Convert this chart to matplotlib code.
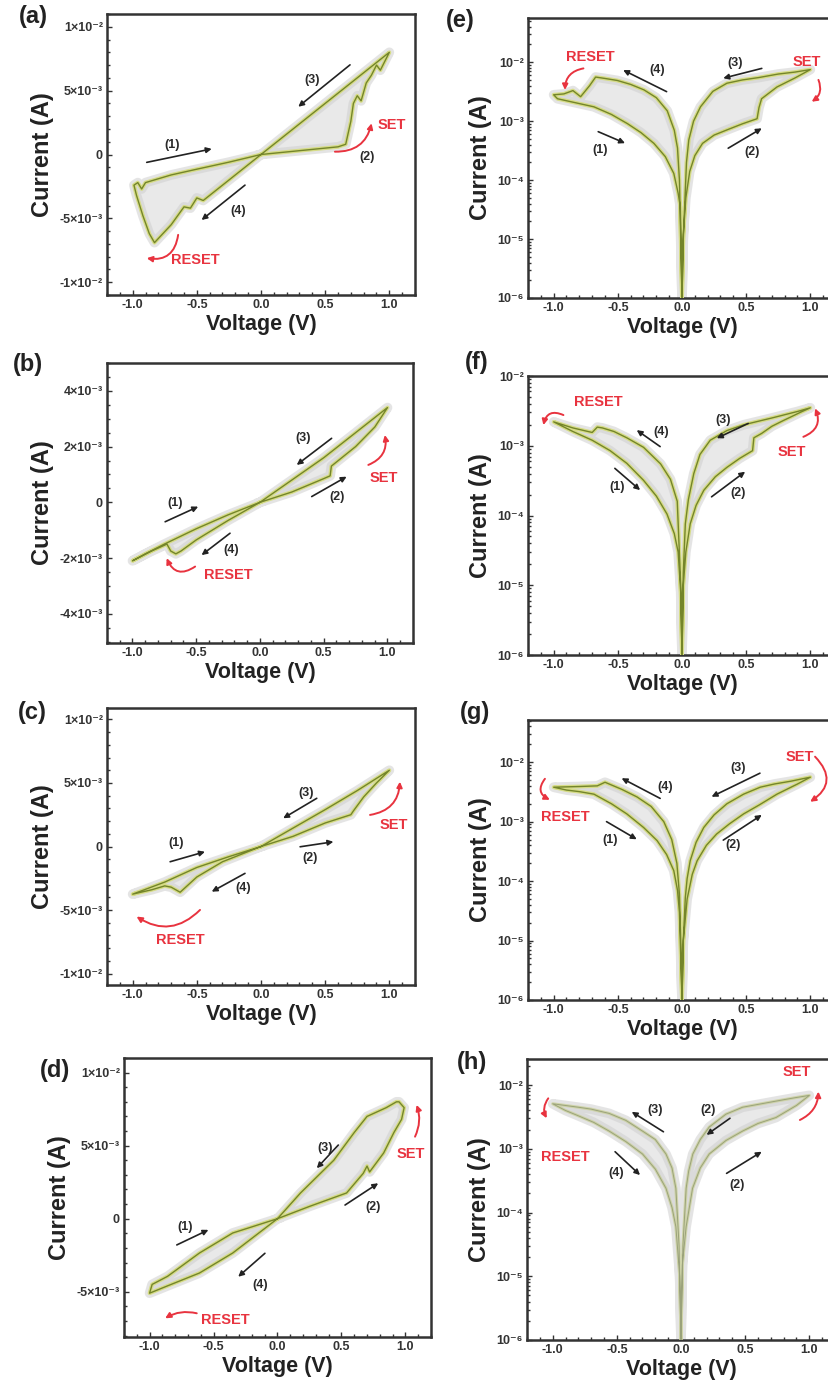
import numpy as np
import matplotlib.pyplot as plt
from matplotlib.ticker import AutoMinorLocator, FixedLocator, LogLocator, NullFormatter

plt.rcParams['font.family'] = ['Liberation Sans', 'DejaVu Sans']
plt.rcParams['font.weight'] = 'bold'

# ---------------- data ----------------
# linear panels: voltage (V) and current (mA), one highlighted sweep each
v_a = [0.0, 0.2, 0.4, 0.6, 0.66, 0.70, 0.72, 0.75, 0.78, 0.82, 0.86, 0.90, 0.93, 0.97, 1.0,
       0.75, 0.5, 0.25, 0.0, -0.25, -0.45, -0.5, -0.55, -0.6, -0.7, -0.83, -0.87, -0.92,
       -0.97, -0.99, -0.96, -0.93, -0.9, -0.7, -0.5, -0.25, 0.0]
i_a = [0.0, 0.2, 0.4, 0.6, 0.8, 2.6, 4.0, 4.6, 4.2, 5.6, 6.2, 7.0, 6.6, 7.4, 8.0,
       6.0, 4.0, 2.0, 0.0, -2.0, -3.6, -3.4, -4.2, -4.1, -5.5, -6.9, -6.2, -4.8,
       -3.2, -2.4, -2.2, -2.7, -2.2, -1.6, -1.15, -0.6, 0.0]

v_b = [0.0, 0.25, 0.5, 0.55, 0.56, 0.75, 0.9, 1.0, 0.75, 0.5, 0.25, 0.0, -0.25, -0.5,
       -0.62, -0.66, -0.7, -0.73, -0.85, -1.0, -0.9, -0.75, -0.5, -0.25, 0.0]
i_b = [0.0, 0.37, 0.85, 0.95, 1.3, 2.0, 2.7, 3.4, 2.5, 1.6, 0.8, 0.0, -0.65, -1.35,
       -1.75, -1.85, -1.75, -1.5, -1.75, -2.1, -1.85, -1.5, -0.95, -0.45, 0.0]

v_c = [0.0, 0.25, 0.5, 0.7, 0.72, 0.8, 0.9, 1.0, 0.75, 0.5, 0.25, 0.0, -0.3, -0.5,
       -0.63, -0.7, -0.75, -0.85, -1.0, -0.75, -0.5, -0.25, 0.0]
i_c = [0.0, 0.8, 1.85, 2.5, 2.8, 3.9, 5.0, 6.0, 4.4, 2.9, 1.45, 0.0, -1.2, -2.4,
       -3.6, -3.2, -3.1, -3.4, -3.75, -2.8, -1.65, -0.8, 0.0]

v_d = [0.0, 0.25, 0.54, 0.67, 0.70, 0.72, 0.83, 0.91, 0.97, 0.99, 0.95, 0.93, 0.85, 0.7,
       0.6, 0.44, 0.18, 0.0, -0.35, -0.61, -0.86, -1.0, -0.98, -0.86, -0.61, -0.35, 0.0]
i_d = [0.0, 0.84, 1.76, 3.1, 3.6, 3.2, 4.5, 5.9, 6.8, 7.6, 8.0, 8.0, 7.6, 7.0,
       5.9, 4.0, 1.76, 0.0, -2.35, -3.72, -4.6, -5.1, -4.5, -3.95, -2.35, -0.98, 0.0]

# log panels: voltage (V) and |current| (A), sweep order (2) -> (3) -> (4) -> (1)
v_e = [0.0, 0.01, 0.03, 0.06, 0.1, 0.16, 0.25, 0.35, 0.47, 0.585, 0.60, 0.62, 0.74, 0.88, 1.0,
       0.88, 0.75, 0.6, 0.47, 0.35, 0.24, 0.144, 0.09, 0.053, 0.035, 0.027, 0.01, 0.0,
       -0.01, -0.02, -0.035, -0.06, -0.115, -0.2, -0.297, -0.4, -0.504, -0.6, -0.673,
       -0.72, -0.79, -0.85, -0.92, -1.0,
       -0.97, -0.85, -0.686, -0.55, -0.426, -0.32, -0.219, -0.13, -0.064, -0.03, -0.013, 0.0]
i_e = [1e-6, 1.2e-5, 5e-5, 1.4e-4, 2.6e-4, 4.2e-4, 5.8e-4, 7.1e-4, 9e-4, 1.1e-3, 1.7e-3, 2.4e-3, 3.8e-3, 5.4e-3, 7.5e-3,
       6.8e-3, 6.3e-3, 5.5e-3, 5.0e-3, 4.4e-3, 3.2e-3, 1.75e-3, 1.0e-3, 4.8e-4, 2e-4, 7.7e-5, 1e-5, 1e-6,
       1e-5, 1e-4, 3.5e-4, 7e-4, 1.5e-3, 2.5e-3, 3.4e-3, 4.2e-3, 4.9e-3, 5.3e-3, 5.6e-3,
       4.0e-3, 2.6e-3, 3.3e-3, 2.9e-3, 2.8e-3,
       2.4e-3, 2.1e-3, 1.75e-3, 1.3e-3, 9.1e-4, 6.4e-4, 4.2e-4, 2.5e-4, 1.3e-4, 6e-5, 3.5e-5, 1e-6]

v_f = [0.0, 0.01, 0.03, 0.064, 0.11, 0.17, 0.26, 0.35, 0.45, 0.55, 0.56, 0.62, 0.7, 0.79, 0.92, 1.0,
       0.9, 0.7, 0.482, 0.35, 0.22, 0.14, 0.092, 0.05, 0.026, 0.01, 0.0,
       -0.01, -0.037, -0.09, -0.167, -0.3, -0.43, -0.53, -0.62, -0.66, -0.70, -0.85, -1.0,
       -0.85, -0.7, -0.56, -0.43, -0.30, -0.2, -0.117, -0.06, -0.03, -0.01, 0.0]
i_f = [1e-6, 1e-5, 3e-5, 7.6e-5, 1.4e-4, 2.3e-4, 3.6e-4, 4.9e-4, 6.6e-4, 8.5e-4, 1.3e-3, 1.5e-3, 1.9e-3, 2.3e-3, 3.0e-3, 3.5e-3,
       3.1e-3, 2.5e-3, 2.0e-3, 1.65e-3, 1.2e-3, 7.5e-4, 4e-4, 1.7e-4, 7.6e-5, 1.5e-5, 1e-6,
       1e-5, 1.6e-4, 3.3e-4, 5.5e-4, 9.5e-4, 1.3e-3, 1.6e-3, 1.8e-3, 1.85e-3, 1.55e-3, 1.8e-3, 2.2e-3,
       1.6e-3, 1.2e-3, 8.5e-4, 5.6e-4, 3.2e-4, 1.9e-4, 1.05e-4, 5.5e-5, 3e-5, 8e-6, 1e-6]

v_g = [0.0, 0.01, 0.04, 0.08, 0.118, 0.19, 0.27, 0.37, 0.48, 0.6, 0.74, 0.9, 1.0,
       0.85, 0.72, 0.61, 0.48, 0.35, 0.25, 0.17, 0.11, 0.064, 0.04, 0.026, 0.01, 0.0,
       -0.01, -0.02, -0.04, -0.08, -0.142, -0.24, -0.35, -0.47, -0.6, -0.66, -0.8, -1.0,
       -0.9, -0.8, -0.686, -0.55, -0.43, -0.3, -0.194, -0.12, -0.064, -0.035, -0.02, 0.0]
i_g = [1e-6, 1e-5, 5e-5, 1.3e-4, 2.2e-4, 4e-4, 6.2e-4, 9.2e-4, 1.35e-3, 1.9e-3, 2.9e-3, 4.3e-3, 5.6e-3,
       4.8e-3, 4.3e-3, 3.8e-3, 2.9e-3, 2.0e-3, 1.3e-3, 8e-4, 4.5e-4, 2.2e-4, 1.1e-4, 5.3e-5, 1e-5, 1e-6,
       1e-5, 6e-5, 2.0e-4, 5e-4, 1.0e-3, 1.8e-3, 2.6e-3, 3.5e-3, 4.6e-3, 4.0e-3, 3.9e-3, 3.8e-3,
       3.4e-3, 3.2e-3, 2.9e-3, 2.0e-3, 1.35e-3, 8e-4, 4.8e-4, 2.8e-4, 1.5e-4, 7e-5, 3e-5, 1e-6]

v_h = [0.0, 0.01, 0.04, 0.09, 0.15, 0.22, 0.35, 0.48, 0.6, 0.74, 0.9, 1.0,
       0.9, 0.8, 0.65, 0.48, 0.35, 0.22, 0.15, 0.092, 0.06, 0.04, 0.015, 0.0,
       -0.015, -0.04, -0.07, -0.117, -0.2, -0.30, -0.43, -0.56, -0.7, -0.8, -1.0,
       -0.9, -0.8, -0.68, -0.56, -0.43, -0.30, -0.2, -0.117, -0.07, -0.04, -0.01, 0.0]
i_h = [1e-6, 1.5e-5, 6e-5, 2.4e-4, 5e-4, 8.3e-4, 1.35e-3, 1.9e-3, 2.5e-3, 3.1e-3, 4.8e-3, 6.9e-3,
       6.4e-3, 5.9e-3, 5.2e-3, 4.5e-3, 3.5e-3, 2.2e-3, 1.4e-3, 8.3e-4, 4.5e-4, 2.4e-4, 3e-5, 1e-6,
       3e-5, 2.4e-4, 5e-4, 8.3e-4, 1.4e-3, 1.9e-3, 2.8e-3, 3.6e-3, 4.2e-3, 4.5e-3, 5.1e-3,
       4.0e-3, 3.3e-3, 2.6e-3, 1.9e-3, 1.3e-3, 8.3e-4, 4.8e-4, 2.4e-4, 1.2e-4, 6e-5, 1e-5, 1e-6]

# ticks
x_ticks = [-1.0, -0.5, 0.0, 0.5, 1.0]
x_labels = ['-1.0', '-0.5', '0.0', '0.5', '1.0']
y_ticks_ac = [-1e-2, -5e-3, 0, 5e-3, 1e-2]
y_labels_ac = ['-1×10⁻²', '-5×10⁻³', '0', '5×10⁻³', '1×10⁻²']
y_ticks_b = [-4e-3, -2e-3, 0, 2e-3, 4e-3]
y_labels_b = ['-4×10⁻³', '-2×10⁻³', '0', '2×10⁻³', '4×10⁻³']
y_ticks_d = [-5e-3, 0, 5e-3, 1e-2]
y_labels_d = ['-5×10⁻³', '0', '5×10⁻³', '1×10⁻²']
log_ticks = [1e-6, 1e-5, 1e-4, 1e-3, 1e-2]
log_labels = ['10⁻⁶', '10⁻⁵', '10⁻⁴', '10⁻³', '10⁻²']

W, H = 829, 1392
fig = plt.figure(figsize=(W / 100, H / 100), dpi=100)


def box(l, r, t, b):
    return fig.add_axes([l / W, 1 - b / H, (r - l) / W, (b - t) / H])


def style(ax, log):
    for s in ax.spines.values():
        s.set_linewidth(1.8)
        s.set_color('#333333')
    ax.set_xlim(-1.2, 1.2)
    ax.xaxis.set_major_locator(FixedLocator(x_ticks))
    ax.set_xticklabels(x_labels)
    ax.xaxis.set_minor_locator(AutoMinorLocator(5))
    if log:
        ax.set_yscale('log')
        ax.set_yticks(log_ticks)
        ax.set_yticklabels(log_labels)
        ax.yaxis.set_minor_locator(LogLocator(base=10, subs=np.arange(2, 10)))
        ax.yaxis.set_minor_formatter(NullFormatter())
    else:
        ax.yaxis.set_minor_locator(AutoMinorLocator(5))
    ax.tick_params(which='both', direction='in', color='#333333', width=1.0)
    ax.tick_params(which='major', length=3.5, labelsize=9, pad=3)
    ax.tick_params(which='minor', length=2)
    for t in ax.get_xticklabels() + ax.get_yticklabels():
        t.set_fontweight('bold')
        t.set_color('#333333')
    ax.set_xlabel('Voltage (V)', fontsize=15.5, fontweight='bold', color='#222222', labelpad=2)
    ax.set_ylabel('Current (A)', fontsize=17, fontweight='bold', color='#222222')


def loop(ax, v, i, pale=False):
    ax.fill(v, i, color='#d8d8d8', alpha=0.55, lw=0, zorder=1)
    ax.plot(v, i, color='#cfcfcf', lw=7, alpha=0.55, solid_joinstyle='round', zorder=2)
    if pale:
        ax.plot(v, i, color='#c9cf9a', lw=2.2, alpha=0.8, zorder=3)
        ax.plot(v, i, color='#9aa27a', lw=0.7, zorder=4)
    else:
        ax.plot(v, i, color='#d6dc86', lw=2.8, zorder=3)
        ax.plot(v, i, color='#74852a', lw=1.0, zorder=4)


def step(ax, txt, tpos, tail, head):
    ax.text(*tpos, txt, transform=ax.transAxes, ha='center', va='center',
            fontsize=9, fontweight='bold', color='#2a2a2a', zorder=6)
    ax.annotate('', xy=head, xytext=tail, xycoords='axes fraction', textcoords='axes fraction',
                arrowprops=dict(arrowstyle='-|>', color='#222222', lw=1.2, mutation_scale=8,
                                shrinkA=0, shrinkB=0), zorder=6)


def red(ax, txt, tpos, tail, head, rad):
    ax.text(*tpos, txt, transform=ax.transAxes, ha='center', va='center',
            fontsize=10.5, fontweight='bold', color='#e8333f', zorder=6)
    ax.annotate('', xy=head, xytext=tail, xycoords='axes fraction', textcoords='axes fraction',
                arrowprops=dict(arrowstyle='-|>', color='#e8333f', lw=1.4, mutation_scale=8,
                                shrinkA=0, shrinkB=0, connectionstyle='arc3,rad=%s' % rad),
                annotation_clip=False, zorder=6)


def lin_y(ax, ticks, labels, lo, hi):
    ax.set_ylim(lo, hi)
    ax.yaxis.set_major_locator(FixedLocator(ticks))
    ax.set_yticklabels(labels)


# ---------------- (a) ----------------
ax = box(107, 415, 14, 295)
loop(ax, v_a, np.array(i_a) * 1e-3)
lin_y(ax, y_ticks_ac, y_labels_ac, -0.011, 0.011)
style(ax, False)
step(ax, '(3)', (0.665, 0.765), (0.789, 0.819), (0.621, 0.670))
step(ax, '(1)', (0.210, 0.534), (0.129, 0.472), (0.340, 0.520))
step(ax, '(4)', (0.426, 0.300), (0.448, 0.391), (0.307, 0.267))
ax.text(0.843, 0.492, '(2)', transform=ax.transAxes, ha='center', va='center',
        fontsize=9, fontweight='bold', color='#2a2a2a')
red(ax, 'SET', (0.924, 0.605), (0.740, 0.510), (0.859, 0.611), 0.4)
red(ax, 'RESET', (0.286, 0.125), (0.231, 0.214), (0.129, 0.131), -0.5)

# ---------------- (b) ----------------
ax = box(107, 413, 363, 643)
loop(ax, v_b, np.array(i_b) * 1e-3)
lin_y(ax, y_ticks_b, y_labels_b, -5.05e-3, 5.0e-3)
style(ax, False)
ax.yaxis.set_minor_locator(AutoMinorLocator(4))
step(ax, '(3)', (0.642, 0.731), (0.734, 0.731), (0.620, 0.636))
step(ax, '(1)', (0.222, 0.499), (0.190, 0.433), (0.298, 0.487))
step(ax, '(2)', (0.751, 0.523), (0.669, 0.523), (0.783, 0.594))
step(ax, '(4)', (0.407, 0.332), (0.402, 0.392), (0.309, 0.314))
red(ax, 'SET', (0.903, 0.588), (0.854, 0.636), (0.908, 0.743), 0.4)
red(ax, 'RESET', (0.396, 0.243), (0.288, 0.273), (0.195, 0.303), -0.6)

# ---------------- (c) ----------------
ax = box(107, 415, 708, 985)
loop(ax, v_c, np.array(i_c) * 1e-3)
lin_y(ax, y_ticks_ac, y_labels_ac, -0.0109, 0.0109)
style(ax, False)
step(ax, '(3)', (0.648, 0.692), (0.681, 0.674), (0.572, 0.602))
step(ax, '(1)', (0.226, 0.512), (0.205, 0.445), (0.318, 0.481))
step(ax, '(2)', (0.659, 0.457), (0.627, 0.499), (0.735, 0.517))
step(ax, '(4)', (0.443, 0.349), (0.448, 0.403), (0.340, 0.337))
red(ax, 'SET', (0.930, 0.578), (0.854, 0.614), (0.951, 0.734), 0.4)
red(ax, 'RESET', (0.237, 0.162), (0.302, 0.271), (0.096, 0.247), -0.4)

# ---------------- (d) ----------------
ax = box(124, 431, 1058, 1337)
loop(ax, v_d, np.array(i_d) * 1e-3)
lin_y(ax, y_ticks_d, y_labels_d, -0.0081, 0.011)
style(ax, False)
step(ax, '(3)', (0.655, 0.676), (0.698, 0.688), (0.628, 0.605))
step(ax, '(1)', (0.199, 0.395), (0.172, 0.330), (0.275, 0.384))
step(ax, '(2)', (0.812, 0.467), (0.720, 0.473), (0.828, 0.551))
step(ax, '(4)', (0.443, 0.186), (0.459, 0.300), (0.372, 0.216))
red(ax, 'SET', (0.935, 0.655), (0.948, 0.718), (0.953, 0.832), 0.2)
red(ax, 'RESET', (0.329, 0.061), (0.237, 0.085), (0.134, 0.067), 0.2)

# ---------------- (e) ----------------
ax = box(528, 836, 18, 298)
loop(ax, v_e, i_e)
ax.set_ylim(1e-6, 10 ** -1.25)
style(ax, True)
step(ax, '(4)', (0.418, 0.814), (0.450, 0.737), (0.309, 0.814))
step(ax, '(3)', (0.672, 0.838), (0.759, 0.820), (0.634, 0.785))
step(ax, '(1)', (0.234, 0.530), (0.228, 0.594), (0.315, 0.553))
step(ax, '(2)', (0.726, 0.523), (0.650, 0.535), (0.759, 0.606))
red(ax, 'RESET', (0.201, 0.862), (0.180, 0.820), (0.120, 0.743), 0.4)
red(ax, 'SET', (0.905, 0.844), (0.943, 0.779), (0.921, 0.701), -0.4)

# ---------------- (f) ----------------
ax = box(528, 836, 376, 655)
loop(ax, v_f, i_f)
ax.set_ylim(1e-6, 1e-2)
style(ax, True)
step(ax, '(4)', (0.434, 0.800), (0.429, 0.747), (0.353, 0.806))
step(ax, '(3)', (0.634, 0.842), (0.715, 0.830), (0.613, 0.777))
step(ax, '(1)', (0.288, 0.603), (0.282, 0.669), (0.364, 0.591))
step(ax, '(2)', (0.683, 0.580), (0.596, 0.567), (0.705, 0.657))
red(ax, 'RESET', (0.228, 0.908), (0.115, 0.860), (0.050, 0.824), 0.6)
red(ax, 'SET', (0.856, 0.729), (0.894, 0.782), (0.932, 0.884), 0.5)

# ---------------- (g) ----------------
ax = box(528, 836, 720, 1000)
loop(ax, v_g, i_g)
ax.set_ylim(1e-6, 10 ** -1.29)
style(ax, True)
step(ax, '(3)', (0.683, 0.827), (0.753, 0.810), (0.596, 0.726))
step(ax, '(4)', (0.445, 0.762), (0.429, 0.720), (0.304, 0.792))
step(ax, '(1)', (0.266, 0.571), (0.255, 0.637), (0.353, 0.574))
step(ax, '(2)', (0.667, 0.554), (0.634, 0.571), (0.759, 0.661))
red(ax, 'SET', (0.883, 0.869), (0.932, 0.869), (0.916, 0.708), -0.6)
red(ax, 'RESET', (0.120, 0.655), (0.055, 0.790), (0.071, 0.715), 0.6)

# ---------------- (h) ----------------
ax = box(527, 835, 1059, 1340)
loop(ax, v_h, i_h, pale=True)
ax.set_ylim(1e-6, 10 ** -1.59)
style(ax, True)
step(ax, '(3)', (0.416, 0.819), (0.443, 0.741), (0.340, 0.812))
step(ax, '(2)', (0.589, 0.819), (0.659, 0.789), (0.583, 0.730))
step(ax, '(4)', (0.291, 0.593), (0.286, 0.670), (0.367, 0.587))
step(ax, '(2)', (0.681, 0.552), (0.648, 0.593), (0.762, 0.670))
red(ax, 'SET', (0.876, 0.955), (0.886, 0.783), (0.946, 0.884), 0.3)
red(ax, 'RESET', (0.123, 0.652), (0.069, 0.860), (0.064, 0.789), 0.3)

# panel letters
for lab, x, y in [('(a)', 33, 17), ('(b)', 28, 365), ('(c)', 32, 713), ('(d)', 55, 1070),
                  ('(e)', 460, 20), ('(f)', 477, 363), ('(g)', 475, 712), ('(h)', 472, 1062)]:
    fig.text(x / W, 1 - y / H, lab, fontsize=17, fontweight='bold', ha='center', va='center',
             color='#222222')

fig.savefig('out.png', dpi=100)
